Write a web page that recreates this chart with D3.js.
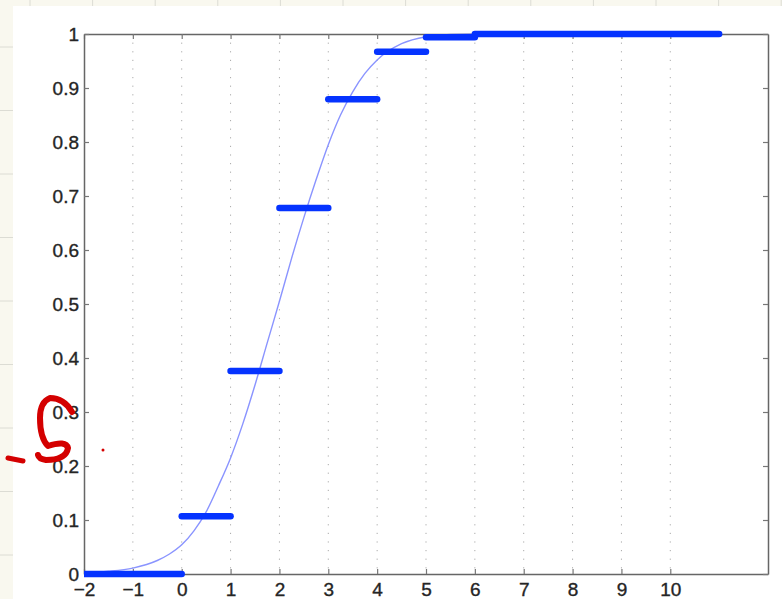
<!DOCTYPE html>
<html>
<head>
<meta charset="utf-8">
<script src="https://cdn.jsdelivr.net/npm/d3@7"></script>
<style>
  body { margin: 0; background: #f9f8ef; }
  svg { display: block; }
</style>
</head>
<body>
<svg class="cdf-chart"></svg>
<script>
// step values of the discrete cdf, one segment per value
let stepStart = [-2, 0, 1, 2, 3, 4, 5, 6];
let stepEnd = [0, 1, 2, 3, 4, 5, 6, 11];
let stepValue = [0, 0.107, 0.376, 0.678, 0.879, 0.967, 0.994, 1.0];

// smooth curve
let curveX = [-2, -1.5, -1, -0.5, -0.25, 0, 0.25, 0.5, 0.75, 1, 1.25, 1.5, 1.75, 2, 2.25, 2.5, 2.75, 3, 3.25, 3.5, 3.75, 4, 4.5, 5, 5.5, 6, 8, 11];
let curveY = [0.002, 0.005, 0.011, 0.025, 0.037, 0.054, 0.08, 0.115, 0.163, 0.215, 0.278, 0.35, 0.428, 0.505, 0.585, 0.66, 0.73, 0.795, 0.85, 0.893, 0.927, 0.952, 0.982, 0.995, 0.999, 1, 1, 1];

let xTicks = [-2, -1, 0, 1, 2, 3, 4, 5, 6, 7, 8, 9, 10];
let yTicks = [0, 0.1, 0.2, 0.3, 0.4, 0.5, 0.6, 0.7, 0.8, 0.9, 1];

(() => {
let svgWidth = 782,
    svgHeight = 599,
    left = 84,
    right = 768,
    top = 34,
    bottom = 574,
    fontSize = 19;

let svg = d3.select('.cdf-chart')
    .attr('width', svgWidth)
    .attr('height', svgHeight);

// paper background with faint ruler lines
svg.append('rect')
    .attr('width', svgWidth).attr('height', svgHeight)
    .attr('fill', '#f9f8ef');
svg.selectAll('.rule-h')
    .data(d3.range(47, svgHeight, 63.5))
    .enter().append('line')
    .attr('x1', 0).attr('x2', 13)
    .attr('y1', d => d).attr('y2', d => d)
    .attr('stroke', '#dcdcd4');
svg.selectAll('.rule-v')
    .data(d3.range(30, svgWidth, 62.6))
    .enter().append('line')
    .attr('y1', 0).attr('y2', 6)
    .attr('x1', d => d).attr('x2', d => d)
    .attr('stroke', '#dcdcd4');
svg.append('rect')
    .attr('x', 13).attr('y', 6)
    .attr('width', svgWidth - 13).attr('height', svgHeight - 6)
    .attr('fill', '#fff');

let xScale = d3.scaleLinear()
    .domain([-2, 12])
    .range([left, right]);

let yScale = d3.scaleLinear()
    .domain([0, 1])
    .range([bottom, top]);

// dotted vertical grid
svg.append('g')
    .selectAll('line')
    .data(xTicks.slice(1))
    .enter().append('line')
    .attr('x1', d => xScale(d)).attr('x2', d => xScale(d))
    .attr('y1', top).attr('y2', bottom)
    .attr('stroke', '#aaa')
    .attr('stroke-width', 1)
    .attr('stroke-dasharray', '1.2,7.4');

svg.append('defs').append('clipPath')
    .attr('id', 'plot-clip')
    .append('rect')
    .attr('x', left).attr('y', 0)
    .attr('width', svgWidth - left).attr('height', svgHeight);

let line = d3.line()
    .x(d => xScale(d[0]))
    .y(d => yScale(d[1]))
    .curve(d3.curveMonotoneX);

svg.append('path')
    .datum(d3.zip(curveX, curveY))
    .attr('d', line)
    .attr('fill', 'none')
    .attr('stroke', '#8a94ff')
    .attr('stroke-width', 1.4);

let box = svg.append('g');

let xAxis = d3.axisBottom(xScale)
    .tickValues(xTicks)
    .tickFormat(d => d < 0 ? '\u2212' + Math.abs(d) : d)
    .tickSizeInner(-5)
    .tickSizeOuter(0)
    .tickPadding(9);

let xTop = d3.axisTop(xScale)
    .tickValues(xTicks)
    .tickFormat('')
    .tickSizeInner(-5)
    .tickSizeOuter(0);

let yAxis = d3.axisLeft(yScale)
    .tickValues(yTicks)
    .tickFormat(d => d === 0 || d === 1 ? d : d.toFixed(1))
    .tickSizeInner(-5)
    .tickSizeOuter(0)
    .tickPadding(5);

let yRight = d3.axisRight(yScale)
    .tickValues(yTicks)
    .tickFormat('')
    .tickSizeInner(-5)
    .tickSizeOuter(0);

box.append('g').attr('transform', `translate(0,${bottom})`).call(xAxis);
box.append('g').attr('transform', `translate(0,${top})`).call(xTop);
box.append('g').attr('transform', `translate(${left},0)`).call(yAxis);
box.append('g').attr('transform', `translate(${right},0)`).call(yRight);

box.selectAll('.domain')
    .attr('stroke', '#666')
    .attr('stroke-width', 1.5);
box.selectAll('.tick line')
    .attr('stroke', '#777')
    .attr('stroke-width', 1.2);
box.selectAll('.tick text')
    .attr('fill', '#252525')
    .attr('stroke', '#252525')
    .attr('stroke-width', 0.35)
    .attr('font-family', '"Liberation Sans", Arial, sans-serif')
    .attr('font-size', fontSize);

// thick step segments
svg.append('g')
    .attr('clip-path', 'url(#plot-clip)')
    .selectAll('line')
    .data(stepValue)
    .enter().append('line')
    .attr('x1', (d, i) => xScale(stepStart[i]))
    .attr('x2', (d, i) => xScale(stepEnd[i]))
    .attr('y1', d => yScale(d))
    .attr('y2', d => yScale(d))
    .attr('stroke', '#0533ff')
    .attr('stroke-width', 6.5)
    .attr('stroke-linecap', 'round');

// red handwritten scribble on the page
let ink = svg.append('g')
    .attr('fill', 'none')
    .attr('stroke', '#d40000')
    .attr('stroke-linecap', 'round')
    .attr('stroke-linejoin', 'round');
ink.append('path')
    .attr('d', 'M72,412 Q64,398 50,398 Q40,402 40,418 Q40,438 48,446 Q66,440 68,448 Q66,460 46,460 Q39,459 38,455')
    .attr('stroke-width', 6);
ink.append('path')
    .attr('d', 'M8,458 L23,461')
    .attr('stroke-width', 5);
ink.append('circle')
    .attr('cx', 103).attr('cy', 450).attr('r', 1.5)
    .attr('fill', '#d40000').attr('stroke', 'none');
})();
</script>
</body>
</html>
